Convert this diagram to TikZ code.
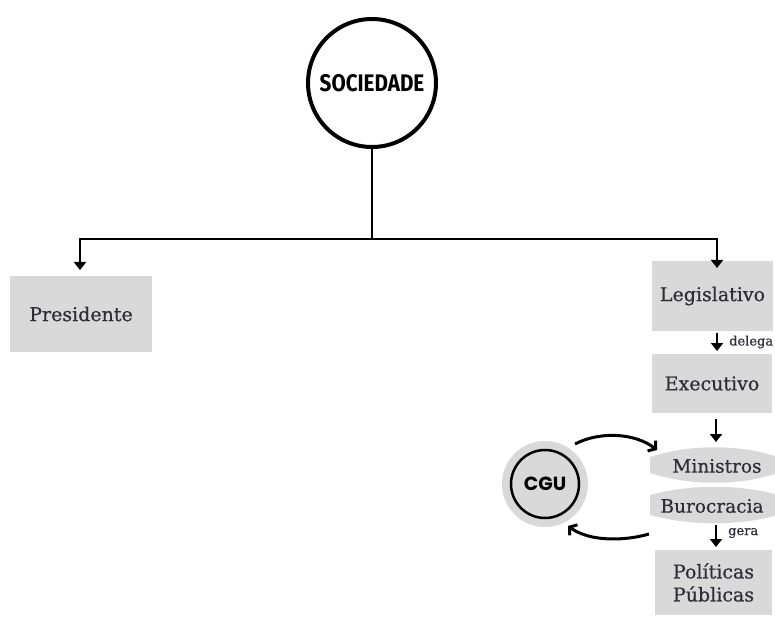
\documentclass[tikz,border=0pt]{standalone}
\usepackage{fontspec}
\setmainfont[FakeBold=0.6]{DejaVu Serif}
\newfontfamily\socfont{Fira Sans}
\newfontfamily\cgufont{Poppins}
\usetikzlibrary{arrows.meta}
\definecolor{boxgray}{HTML}{D9D9D9}
\definecolor{txt}{HTML}{2E2D38}
\begin{document}
\begin{tikzpicture}[x=1pt,y=-1pt,
 box/.style={fill=boxgray, inner sep=0pt, text=txt, font=\fontsize{19}{23}\selectfont, align=center},
 shapetxt/.style={inner sep=0pt, text=txt, font=\fontsize{18.5}{20}\selectfont},
 tree/.style={line width=2.5pt},
 down/.style={line width=2.5pt, -{Triangle[width=12pt,length=8pt]}},
 curv/.style={line width=3pt, -{Straight Barb[length=5pt,width=13pt]}},
 lbl/.style={text=txt, font=\fontsize{13}{15}\selectfont, inner sep=0pt, anchor=west}]
\useasboundingbox[fill=white] (0,0) rectangle (775,617);
% society
\node[circle, draw, line width=4pt, minimum size=128pt, inner sep=0pt] (soc) at (372,83)
  {\scalebox{0.86}[1]{\socfont\bfseries\fontsize{24}{26}\selectfont SOCIEDADE}};
\coordinate (j) at (372,239);
\coordinate (presTip) at (80,270);
\coordinate (legTip) at (717,268);
\node[box, minimum width=142pt, minimum height=76pt] (pres) at (81,314) {Presidente};
\node[box, minimum width=121pt, minimum height=70pt] (leg) at (712.5,296) {Legislativo};
\node[box, minimum width=120pt, minimum height=59pt] (exe) at (712,383.5) {Executivo};
% lens shapes
\fill[boxgray] (650,457) .. controls (690,444) and (740,444) .. (778,457) -- (778,473) .. controls (740,486) and (690,486) .. (650,473) -- cycle;
\fill[boxgray] (650,495) .. controls (690,484) and (740,484) .. (778,495) -- (778,515) .. controls (740,526) and (690,526) .. (650,515) -- cycle;
\node[shapetxt] (min) at (717,466) {Ministros};
\node[shapetxt] (bur) at (712,506) {Burocracia};
\node[box, minimum width=117pt, minimum height=65pt] (pol) at (713.5,582.5) {Políticas\\Públicas};
% CGU
\node[circle, fill=boxgray, minimum size=86pt, inner sep=0pt] (cguo) at (545,484) {};
\node[circle, draw, line width=2.5pt, minimum size=68pt, inner sep=0pt] (cgu) at (545,484)
  {\cgufont\bfseries\fontsize{19}{20}\selectfont CGU};
% tree
\draw[tree] (soc.south) -- (j);
\draw[down] (j) -| (presTip);
\draw[down] (j) -| (legTip);
% chain
\coordinate (legB) at (717,333);
\coordinate (exeT) at (717,351);
\draw[down] (legB) -- (exeT);
\node[lbl] (delega) at (729,342) {delega};
\coordinate (exeB) at (716,419);
\coordinate (minT) at (716,442);
\draw[down] (exeB) -- (minT);
\coordinate (burB) at (716,525);
\coordinate (polT) at (716,547);
\draw[down] (burB) -- (polT);
\node[lbl] (gera) at (728,533) {gera};
% curved arrows
\coordinate (a1) at (575,444);
\coordinate (a2) at (657,450);
\draw[curv] (a1) .. controls (600,431) and (635,433) .. (a2);
\coordinate (b1) at (649,534);
\coordinate (b2) at (568,526);
\draw[curv] (b1) .. controls (625,541) and (590,542) .. (b2);
\end{tikzpicture}
\end{document}
